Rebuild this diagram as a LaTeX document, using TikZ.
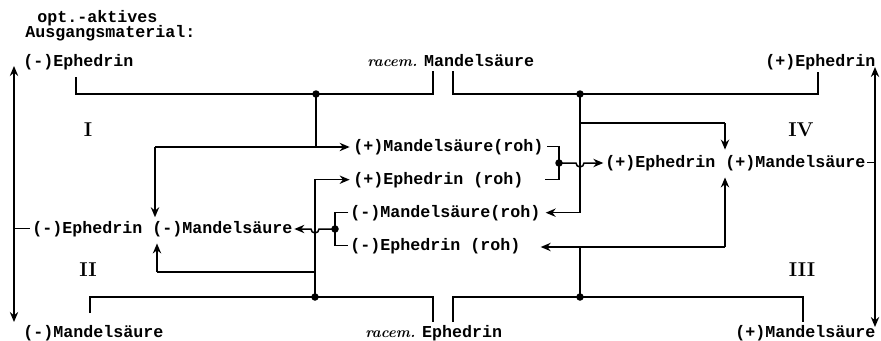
\documentclass[tikz,border=0pt]{standalone}
\usepackage{fontspec}
\setmonofont{Liberation Mono}
\usetikzlibrary{arrows.meta,positioning,calc}

\begin{document}
\begin{tikzpicture}[
  x=0.6pt, y=-0.6pt,
  >={Stealth[length=6pt,width=5pt]},
  wire/.style = {draw, line width=0.9pt},
  arr/.style  = {wire, ->},
  darr/.style = {wire, <->},
  junc/.style = {circle, fill, inner sep=0pt, minimum size=4.5pt},
  lbl/.style  = {font=\ttfamily\bfseries, inner sep=0pt, anchor=base west},
  num/.style  = {font=\rmfamily\bfseries\large, inner sep=0pt},
  rac/.style  = {lbl, execute at begin node={\makebox[34pt][l]{\rmfamily\itshape\small racem.}}},
]
\useasboundingbox (0,0) rectangle (881,340);

% header
\node[lbl] (hdrA) at (37,22) {opt.-aktives};
\node[lbl] (hdrB) at (25,37) {Ausgangsmaterial:};

% starting materials, top and bottom row
\node[lbl] (eMinTop) at (23,66)  {(-)Ephedrin};
\node[rac] (mRac)    at (367,66) {Mandelsäure};
\node[lbl] (ePlsTop) at (765,66) {(+)Ephedrin};
\node[lbl] (mMinBot) at (23,337)  {(-)Mandelsäure};
\node[rac] (eRac)    at (365,337) {Ephedrin};
\node[lbl] (mPlsBot) at (735,337) {(+)Mandelsäure};

% crude salts in the middle
\node[lbl] (pMr) at (353,151) {(+)Mandelsäure(roh)};
\node[lbl] (pEr) at (353,184) {(+)Ephedrin (roh)};
\node[lbl] (mMr) at (350,217) {(-)Mandelsäure(roh)};
\node[lbl] (mEr) at (350,250) {(-)Ephedrin (roh)};

% resolved pairs
\node[lbl] (eMinL) at (32,233)  {(-)Ephedrin};
\node[lbl] (mMinL) at (152,233) {(-)Mandelsäure};
\node[lbl] (ePlsR) at (605,167) {(+)Ephedrin};
\node[lbl] (mPlsR) at (725,167) {(+)Mandelsäure};

% roman numerals
\node[num] (nI)   at (88,130)  {I};
\node[num] (nII)  at (88,270)  {II};
\node[num] (nIII) at (802,270) {III};
\node[num] (nIV)  at (801,130) {IV};

% junctions and corners
\coordinate (jA) at (316,94);
\coordinate (jB) at (580,94);
\coordinate (jC) at (315,297);
\coordinate (jD) at (580,297);
\coordinate (jE) at (335,229);
\coordinate (jF) at (559,163);
\coordinate (tA1) at (76,77);
\coordinate (tA2) at (433,71);
\coordinate (tB1) at (453,71);
\coordinate (tB2) at (818,72);
\coordinate (bA1) at (90,313);
\coordinate (bA2) at (433,322);
\coordinate (bB1) at (453,322);
\coordinate (bB2) at (803,322);
\coordinate (cL1) at (155,147);
\coordinate (cL2) at (157,272);
\coordinate (cR1) at (580,123);
\coordinate (cR2) at (725,123);
\coordinate (cR3) at (725,247);
\coordinate (lT) at (14,66);
\coordinate (lB) at (14,322);
\coordinate (rT) at (875,67);
\coordinate (rB) at (875,327);

% brackets from the starting materials
\draw[wire] (tA1) |- (jA) -| (tA2);
\draw[wire] (tB1) |- (jB) -| (tB2);
\draw[wire] (bA1) |- (jC) -| (bA2);
\draw[wire] (bB1) |- (jD) -| (bB2);

% left half
\draw[wire] (jA) -- (jA |- cL1);
\draw[arr, shorten >=2pt] (cL1) -- (cL1 -| pMr.west);
\draw[arr, shorten >=2pt] (cL1) -- (cL1 |- mMinL.north);
\draw[arr, shorten >=2pt] (jC) |- (pEr.west);
\draw[wire] (jC |- cL2) -- (cL2);
\draw[arr, shorten >=4pt] (cL2) -- (cL2 |- mMinL.south);
\draw[wire, shorten <=1pt, shorten >=1pt] (mMr.west) -| (jE) |- (mEr.west);
\draw[arr, shorten >=1pt] (jE) -- ++(-16,0) arc[start angle=0, end angle=180, radius=4]
  -- (jE -| mMinL.east);

% right half
\draw[arr, shorten >=3pt] (jB) |- (mMr.east);
\draw[wire] (cR1) -- (cR2);
\draw[arr, shorten >=3pt] (cR2) -- (cR2 |- mPlsR.north);
\draw[wire, shorten <=2pt] (pMr.east) -| (jF);
\draw[wire, shorten >=13pt] (jF) |- (pEr.east);
\draw[arr, shorten >=1pt] (jF) -- ++(17,0) arc[start angle=180, end angle=0, radius=4]
  -- (jF -| ePlsR.west);
\draw[wire] (jD) -- (jD |- cR3);
\draw[arr, shorten >=12pt] (cR3) -- (cR3 -| mEr.east);
\draw[arr, shorten >=4pt] (cR3) -- (cR3 |- mPlsR.south);

% outer double arrows
\draw[darr] (lT) -- (lB);
\draw[darr] (rT) -- (rB);
\draw[wire] (eMinL.west -| lT) -- ([xshift=-1pt]eMinL.west);
\draw[wire] ([xshift=1pt]mPlsR.east) -- (mPlsR.east -| rT);

% junction dots
\foreach \j in {jA,jB,jC,jD,jE,jF}
  \node[junc] (d\j) at (\j) {};
\end{tikzpicture}
\end{document}
